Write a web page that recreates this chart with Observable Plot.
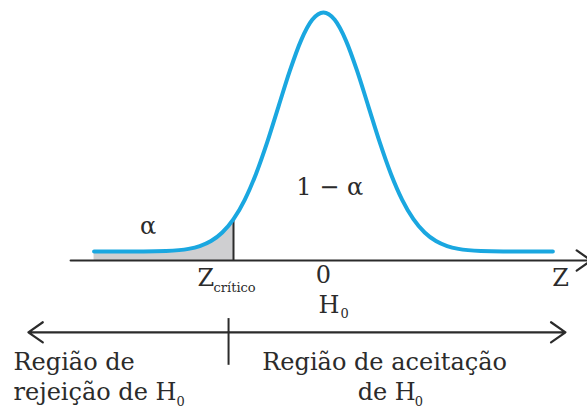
<!DOCTYPE html>
<html>
<head>
<meta charset="utf-8">
<script src="https://cdn.jsdelivr.net/npm/d3@7"></script>
<script src="https://cdn.jsdelivr.net/npm/@observablehq/plot@0.6"></script>
<style>
  html, body { margin: 0; padding: 0; background: #fff; }
  #chart svg { display: block; }
</style>
</head>
<body>
<div id="chart"></div>
<script>
// Standard normal density sampled along the Z axis
const zValues = [-5.1, -4.5, -4, -3.5, -3, -2.75, -2.5, -2.25, -2, -1.75, -1.5, -1.25, -1, -0.75, -0.5, -0.25,
                 0, 0.25, 0.5, 0.75, 1, 1.25, 1.5, 1.75, 2, 2.25, 2.5, 2.75, 3, 3.5, 4, 4.5, 5.1];
const densities = [0, 0, 0.0001, 0.0009, 0.0044, 0.0091, 0.0175, 0.0317, 0.054, 0.0863, 0.1295, 0.1826, 0.242, 0.3011, 0.3521, 0.3867,
                   0.3989, 0.3867, 0.3521, 0.3011, 0.242, 0.1826, 0.1295, 0.0863, 0.054, 0.0317, 0.0175, 0.0091, 0.0044, 0.0009, 0.0001, 0, 0];

// Critical value of the test (left tail)
const zCritico = -2;

// Labels
const alphaLabel = "α";
const confidenceLabel = "1 − α";
const zeroLabel = "0";
const axisLabel = "Z";
const rejectLines = ["Região de", "rejeição de H"];
const acceptLines = ["Região de aceitação", "de H"];

const curve = zValues.map((z, i) => ({z, d: densities[i]}));
const tail = curve.filter(p => p.z <= zCritico);
const dCritico = densities[zValues.indexOf(zCritico)];

const axisLevel = -0.015;     // horizontal Z axis sits just below the curve's tails
const regionLevel = -0.135;   // decision-region arrow
const ink = "#2b2b2b";
const font = "DejaVu Serif";
const txt = (data, opts) => Plot.text(data, {fill: ink, fontFamily: font, fontSize: 24, lineAnchor: "bottom", ...opts});
const arrowStyle = {stroke: ink, strokeWidth: 2.2, headLength: 12, headAngle: 70};

const chart = Plot.plot({
  width: 587,
  height: 409,
  marginTop: 0, marginRight: 0, marginBottom: 0, marginLeft: 0,
  x: {domain: [-7.18, 5.87], axis: null},
  y: {domain: [0, 0.4], range: [251, 11.4], axis: null},
  marks: [
    // shaded rejection area (α)
    Plot.areaY(tail, {x: "z", y1: axisLevel, y2: "d", fill: "#cfcfd1", curve: "monotone-x"}),
    // Z axis
    Plot.arrow([0], {x1: -5.62, x2: 5.95, y1: axisLevel, y2: axisLevel, ...arrowStyle}),
    // critical value marker
    Plot.ruleX([zCritico], {y1: axisLevel, y2: dCritico, stroke: ink, strokeWidth: 2}),
    // density curve
    Plot.line(curve, {x: "z", y: "d", stroke: "#1aa7e0", strokeWidth: 4, curve: "monotone-x"}),
    // curve annotations
    txt([alphaLabel], {x: -3.9, y: 0.03}),
    txt([confidenceLabel], {x: 0.14, y: 0.0935}),
    txt([zeroLabel], {x: 0, y: -0.0534}),
    txt([axisLabel], {x: 5.27, y: -0.0568}),
    txt(["Z"], {x: zCritico, y: -0.0568, textAnchor: "start", dx: -36}),
    txt(["crítico"], {x: zCritico, y: -0.0684, textAnchor: "start", dx: -20, fontSize: 13}),
    txt(["H"], {x: 0, y: -0.1035, textAnchor: "start", dx: -5}),
    txt(["0"], {x: 0, y: -0.111, textAnchor: "start", dx: 17, fontSize: 13}),
    // decision regions
    Plot.arrow([0], {x1: -2.11, x2: -6.56, y1: regionLevel, y2: regionLevel, ...arrowStyle}),
    Plot.arrow([0], {x1: -2.11, x2: 5.38, y1: regionLevel, y2: regionLevel, ...arrowStyle}),
    Plot.ruleX([-2.11], {y1: -0.112, y2: -0.19, stroke: ink, strokeWidth: 2}),
    txt([rejectLines[0]], {x: -6.89, y: -0.197, textAnchor: "start"}),
    txt([rejectLines[1]], {x: -6.89, y: -0.2487, textAnchor: "start"}),
    txt(["0"], {x: -6.89, y: -0.2575, textAnchor: "start", dx: 163, fontSize: 13}),
    txt([acceptLines[0]], {x: -1.36, y: -0.197, textAnchor: "start"}),
    txt([acceptLines[1]], {x: 0.76, y: -0.2487, textAnchor: "start"}),
    txt(["0"], {x: 0.76, y: -0.2575, textAnchor: "start", dx: 57, fontSize: 13})
  ]
});
document.getElementById("chart").append(chart);
</script>
</body>
</html>
